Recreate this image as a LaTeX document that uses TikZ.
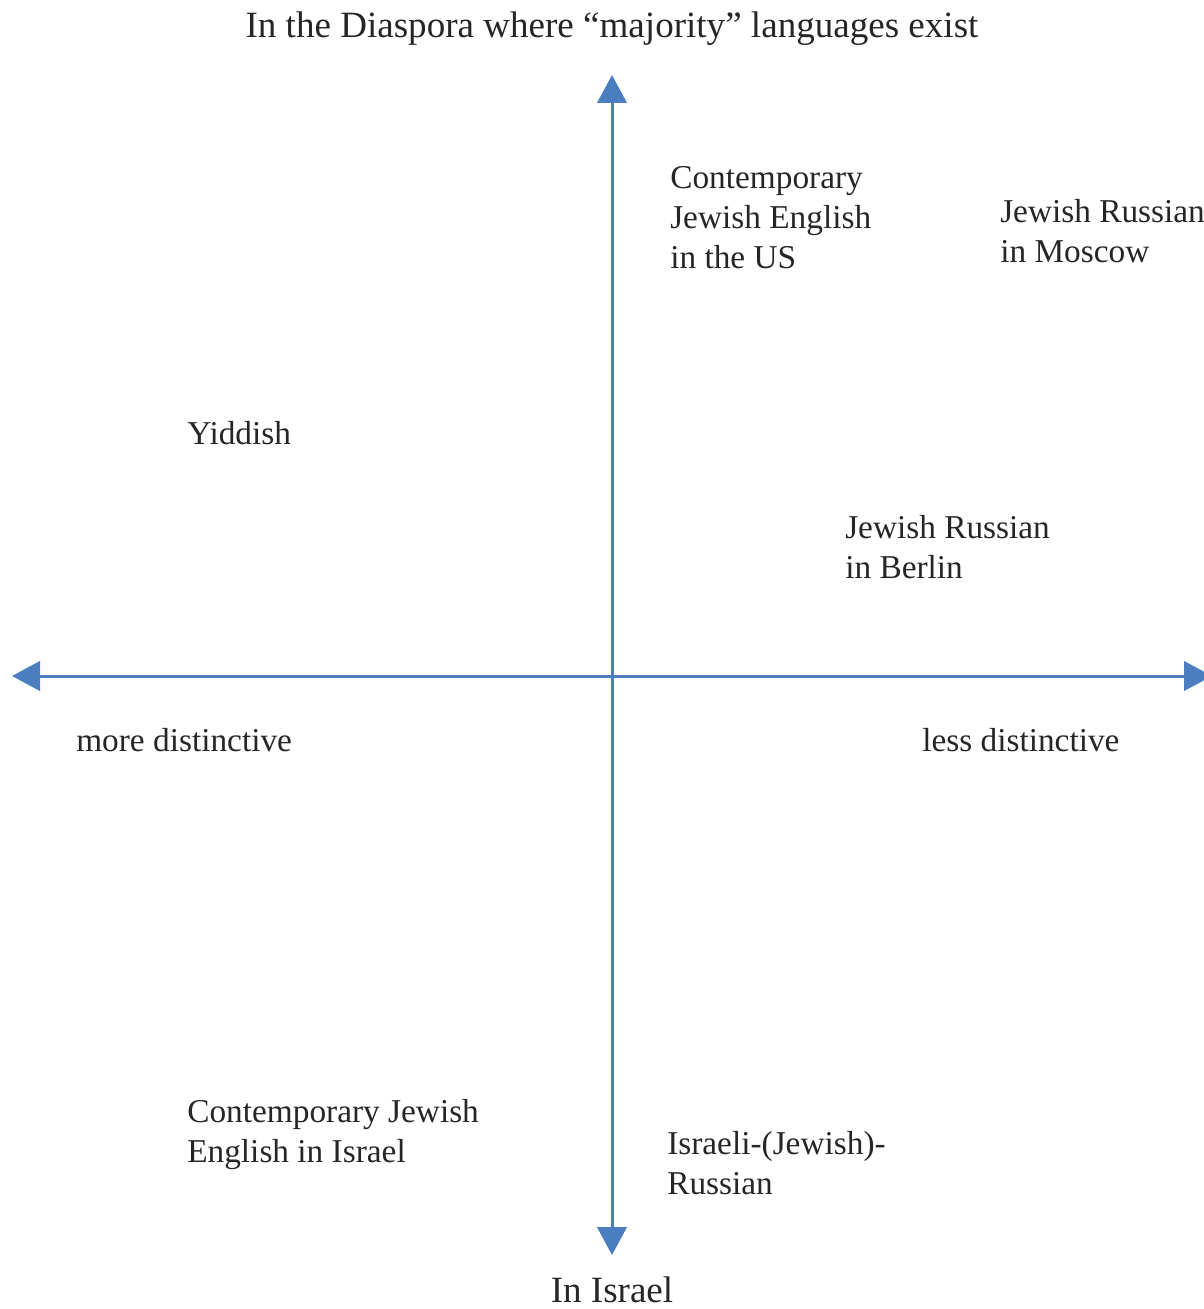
\documentclass[tikz,border=0pt]{standalone}
\usepackage{fontspec}
\setmainfont{Liberation Serif}
\usetikzlibrary{arrows.meta}
\definecolor{axisblue}{RGB}{74,126,192}
\begin{document}
\begin{tikzpicture}[x=0.75pt,y=-0.75pt,
  lbl/.style={font=\fontsize{25}{30}\selectfont, inner sep=0pt, align=left, anchor=west, text=black!85},
  ttl/.style={font=\fontsize{27.8}{33}\selectfont, inner sep=0pt, anchor=center, text=black!85},
  axis/.style={draw=axisblue, line width=2.25pt, -{Triangle[length=21pt,width=22pt]}}]
\useasboundingbox (0,0) rectangle (1203,1309);
\coordinate (o) at (612,676);
\coordinate (top) at (612,75);
\coordinate (bot) at (612,1255);
\coordinate (lft) at (12,676);
\coordinate (rgt) at (1212,676);
\draw[axis] (o) -- (top);
\draw[axis] (o) -- (bot);
\draw[axis] (o) -- (lft);
\draw[axis] (o) -- (rgt);
\node[ttl] (title) at (612,29) {In the Diaspora where “majority” languages exist};
\node[ttl] (israel) at (612,1290) {In Israel};
\node[lbl] (ceus) at (670,218) {Contemporary\\Jewish English\\in the US};
\node[lbl] (jrm) at (1000,231) {Jewish Russian\\in Moscow};
\node[lbl] (yid) at (187,433) {Yiddish};
\node[lbl] (jrb) at (845,547) {Jewish Russian\\in Berlin};
\node[lbl] (more) at (76,740) {more distinctive};
\node[lbl] (less) at (922,740) {less distinctive};
\node[lbl] (cei) at (187,1135) {Contemporary Jewish\\English in Israel};
\node[lbl] (ir) at (667,1163) {Israeli-(Jewish)-\\Russian};
\end{tikzpicture}
\end{document}
